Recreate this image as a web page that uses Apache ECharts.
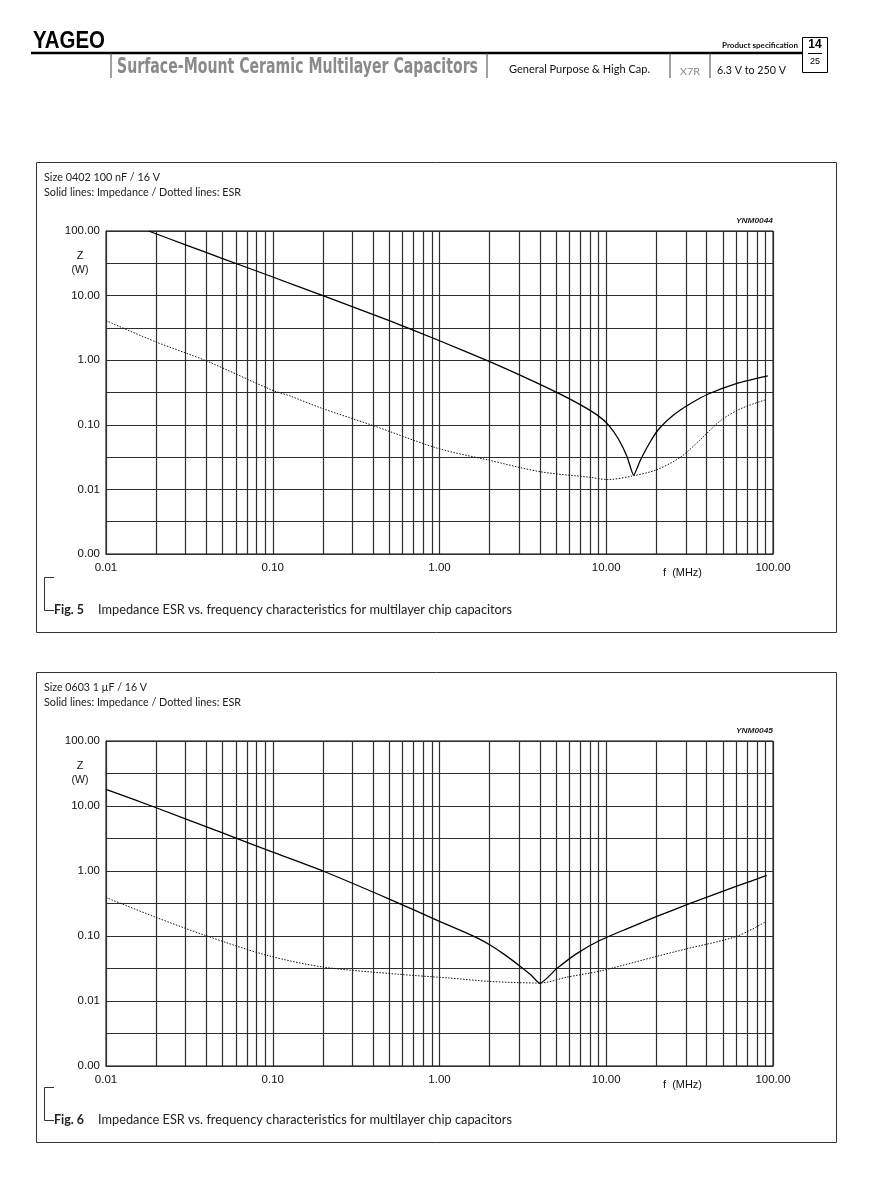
<!DOCTYPE html>
<html>
<head>
<meta charset="utf-8">
<script src="https://cdn.jsdelivr.net/npm/echarts@6/dist/echarts.min.js"></script>
<style>
html,body{margin:0;padding:0;background:#fff;}
#c{width:881px;height:1187px;}
</style>
</head>
<body>
<div id="c"></div>
<script>
// ---- axis ticks / labels ----
const xTickValues = [0.01,0.02,0.03,0.04,0.05,0.06,0.07,0.08,0.09,
  0.1,0.2,0.3,0.4,0.5,0.6,0.7,0.8,0.9,
  1,2,3,4,5,6,7,8,9,
  10,20,30,40,50,60,70,80,90,100];
const xLabelValues = [0.01, 0.1, 1, 10, 100];
const xLabelTexts = ['0.01', '0.10', '1.00', '10.00', '100.00'];
const yTickValues = [0.001,0.003162,0.01,0.03162,0.1,0.3162,1,3.162,10,31.62,100];
const yLabelValues = [0.001, 0.01, 0.1, 1, 10, 100];
const yLabelTexts = ['0.00', '0.01', '0.10', '1.00', '10.00', '100.00'];

// ---- Fig. 5: Size 0402 100 nF / 16 V ----
const fig5ImpFreq = [0.018,0.03,0.05,0.1,0.2,0.5,1,2,3.04,4.97,7.06,8.92,10.3,11.83,13.3,14.6,16.04,18.48,20.8,25.1,31.7,41,60.8,93.1];
const fig5ImpZ    = [100,61,37.5,19.4,10,4.1,2.0,0.95,0.586,0.323,0.2018,0.1387,0.0996,0.0603,0.0327,0.0167,0.0285,0.0561,0.0877,0.1393,0.21,0.2999,0.4387,0.574];
const fig5EsrFreq = [0.01,0.0198,0.0402,0.0986,0.127,0.197,0.392,0.984,1.96,4.01,8.0,10.2,14.3,19.9,27.7,36.5,48.2,63.4,89.5];
const fig5EsrR    = [4.1,1.93,0.97,0.346,0.279,0.18,0.099,0.043,0.0285,0.0188,0.0154,0.0142,0.0161,0.02,0.0312,0.0582,0.1146,0.1757,0.242];

// ---- Fig. 6: Size 0603 1 uF / 16 V ----
const fig6ImpFreq = [0.01,0.02,0.05,0.1,0.2,0.5,1,1.38,1.67,2.01,2.47,3.04,3.54,4.0,5.05,6.65,9.18,13.5,20.1,30.4,60.6,91.7];
const fig6ImpZ    = [18,9.4,3.85,1.95,1.0,0.37,0.168,0.118,0.0944,0.0727,0.0512,0.0343,0.0251,0.0187,0.0315,0.0536,0.0859,0.131,0.2,0.303,0.583,0.855];
const fig6EsrFreq = [0.01,0.0197,0.0392,0.0922,0.2006,0.578,1.16,2.01,4.0,5.82,9.18,20.1,30.4,60.6,89.7];
const fig6EsrR    = [0.391,0.196,0.1025,0.0505,0.0333,0.0257,0.0225,0.02,0.0189,0.0233,0.0289,0.0487,0.0635,0.099,0.164];

function zip(a, b) { return a.map((v, i) => [v, b[i]]); }
function lookup(vals, texts, v) {
  let best = 0, bd = Infinity;
  vals.forEach((x, i) => { const d = Math.abs(Math.log10(x) - Math.log10(v)); if (d < bd) { bd = d; best = i; } });
  return texts[best];
}

const GRID_L = 106, GRID_W = 667;
const grids = [
  { left: GRID_L, top: 231, width: GRID_W, height: 323 },
  { left: GRID_L, top: 741, width: GRID_W, height: 325 }
];
const gridColor = '#2e2e2e';
const labelFont = { fontFamily: '"Liberation Sans", Arial, sans-serif', fontSize: 11.5, color: '#111' };

function xAxis(i) {
  return {
    type: 'log', gridIndex: i, logBase: 10, min: 0.01, max: 100,
    axisLine: { show: true, lineStyle: { color: '#000', width: 1 } },
    axisTick: { show: true, customValues: xTickValues, inside: true, length: grids[i].height, lineStyle: { color: gridColor, width: 1.2 } },
    axisLabel: Object.assign({ customValues: xLabelValues, margin: 8, formatter: v => lookup(xLabelValues, xLabelTexts, v) }, labelFont),
    splitLine: { show: false }, minorTick: { show: false }
  };
}
function yAxis(i) {
  return {
    type: 'log', gridIndex: i, logBase: 10, min: 0.001, max: 100,
    axisLine: { show: true, lineStyle: { color: '#000', width: 1 } },
    axisTick: { show: true, customValues: yTickValues, inside: true, length: GRID_W, lineStyle: { color: gridColor, width: 1.2 } },
    axisLabel: Object.assign({ customValues: yLabelValues, margin: 6, formatter: v => lookup(yLabelValues, yLabelTexts, v) }, labelFont),
    splitLine: { show: false }, minorTick: { show: false }
  };
}
function impSeries(i, data) {
  return { type: 'line', xAxisIndex: i, yAxisIndex: i, data: data, symbol: 'none', smooth: 0.2,
    lineStyle: { color: '#000', width: 1.3 }, z: 5 };
}
function esrSeries(i, data) {
  return { type: 'line', xAxisIndex: i, yAxisIndex: i, data: data, symbol: 'none', smooth: 0.3,
    lineStyle: { color: '#111', width: 1, type: [1.5, 1.5] }, z: 5 };
}

// ---- text helpers ----
const mctx = document.createElement('canvas').getContext('2d');
function fitScale(text, font, w) { mctx.font = font; const m = mctx.measureText(text).width; return m > 0 ? w / m : 1; }
function T(text, x, y, font, w, opt) {
  opt = opt || {};
  const align = opt.align || 'left';
  const s = w ? fitScale(text, font, w) : 1;
  return {
    type: 'text', x: x, y: y, scaleX: s, z: 10,
    style: { text: text, font: font, fill: opt.fill || '#111', textAlign: align, align: align,
      textVerticalAlign: 'middle', verticalAlign: 'middle' }
  };
}
function L(x1, y1, x2, y2, w, c) {
  return { type: 'line', shape: { x1: x1, y1: y1, x2: x2, y2: y2 }, style: { stroke: c || '#222', lineWidth: w || 1 }, z: 10 };
}
const gill = '"Lato", "Open Sans", sans-serif';
const arial = '"Liberation Sans", Arial, sans-serif';

const graphics = [
  // header
  T('YAGEO', 33, 42, 'bold 23px ' + arial, 72, { fill: '#000' }),
  L(31, 53, 802, 53, 2.5, '#000'),
  L(111, 53, 111, 78, 1, '#444'),
  L(487, 53, 487, 78, 1, '#444'),
  L(670, 53, 670, 78, 1, '#444'),
  L(710, 53, 710, 78, 1, '#444'),
  T('Surface-Mount Ceramic Multilayer Capacitors', 117, 68, 'bold 21px "DejaVu Sans Condensed", "DejaVu Sans", sans-serif', 361, { fill: '#8a8a8a' }),
  T('General Purpose & High Cap.', 509, 69, '11px ' + gill, 141, { fill: '#111' }),
  T('X7R', 680, 72, '10px ' + gill, 20, { fill: '#888' }),
  T('6.3 V to 250 V', 717, 70, '11px ' + gill, 69, { fill: '#111' }),
  T('Product specification', 722, 45, 'bold 8px ' + gill, 76, { fill: '#111' }),
  { type: 'rect', shape: { x: 802.5, y: 37.5, width: 25, height: 35 }, style: { fill: 'none', stroke: '#000', lineWidth: 1 }, z: 10 },
  T('14', 815, 45, 'bold 12px ' + arial, 0, { align: 'center', fill: '#000' }),
  L(808, 53.5, 822, 53.5, 1, '#000'),
  T('25', 815, 62, '9px ' + arial, 0, { align: 'center', fill: '#000' })
];

function chartDeco(dy, sizeText, sizeW, code, figNo) {
  return [
    { type: 'rect', shape: { x: 36.5, y: 162.5 + dy, width: 800, height: 470 }, style: { fill: 'none', stroke: '#333', lineWidth: 1 }, z: 10 },
    T(sizeText, 44, 177 + dy, '11px ' + gill, sizeW, { fill: '#222' }),
    T('Solid lines: Impedance / Dotted lines: ESR', 44, 192 + dy, '11px ' + gill, 197, { fill: '#222' }),
    T(code, 773, 221 + dy, 'italic bold 8px ' + arial, 37, { align: 'right', fill: '#222' }),
    T('Z', 80, 256 + dy, '11px ' + arial, 0, { align: 'center', fill: '#111' }),
    T('(W)', 80, 270 + dy, '10.5px ' + arial, 0, { align: 'center', fill: '#111' }),
    T('f  (MHz)', 663, 573 + dy + (dy ? 2 : 0), '11px ' + arial, 39, { fill: '#111' }),
    { type: 'polyline', shape: { points: [[54, 577.5 + dy], [44.5, 577.5 + dy], [44.5, 610.5 + dy], [54, 610.5 + dy]] },
      style: { fill: 'none', stroke: '#333', lineWidth: 1 }, z: 10 },
    T('Fig. ' + figNo, 54, 610 + dy, 'bold 12.5px ' + gill, 30, { fill: '#222' }),
    T('Impedance ESR vs. frequency characteristics for multilayer chip capacitors', 98, 610 + dy, '12.5px ' + gill, 414, { fill: '#222' })
  ];
}
graphics.push(...chartDeco(0, 'Size 0402 100 nF / 16 V', 116, 'YNM0044', 5));
graphics.push(...chartDeco(510, 'Size 0603 1 \u00b5F / 16 V', 103, 'YNM0045', 6));

const chart = echarts.init(document.getElementById('c'), null, { renderer: 'canvas' });
chart.setOption({
  animation: false,
  backgroundColor: '#fff',
  grid: grids.map(g => Object.assign({ show: true, borderColor: '#000', borderWidth: 1, backgroundColor: 'transparent', containLabel: false }, g)),
  xAxis: [xAxis(0), xAxis(1)],
  yAxis: [yAxis(0), yAxis(1)],
  series: [
    impSeries(0, zip(fig5ImpFreq, fig5ImpZ)),
    esrSeries(0, zip(fig5EsrFreq, fig5EsrR)),
    impSeries(1, zip(fig6ImpFreq, fig6ImpZ)),
    esrSeries(1, zip(fig6EsrFreq, fig6EsrR))
  ],
  graphic: graphics
});
</script>
</body>
</html>
